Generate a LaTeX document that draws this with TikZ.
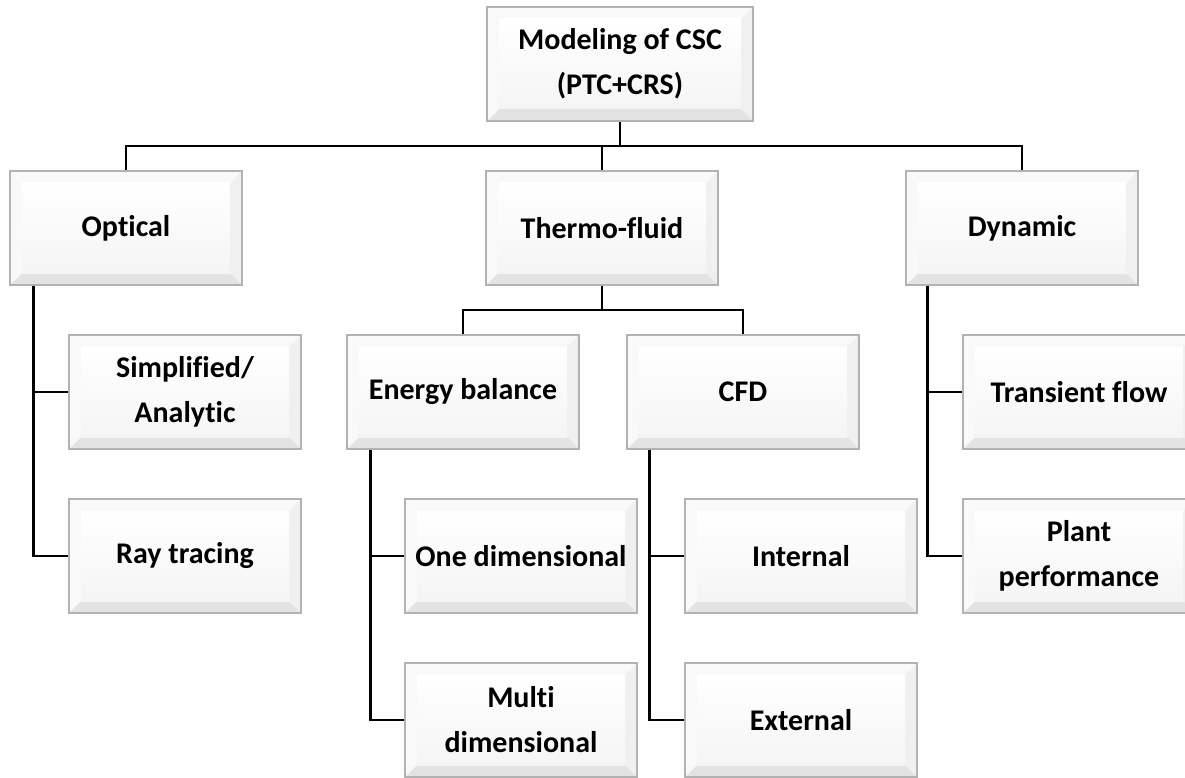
\documentclass[tikz,border=0pt]{standalone}
\usepackage{fontspec}
\setmainfont{Carlito}[Ligatures=NoCommon]
\usepackage{tikz}

\tikzset{
    bevel/.style={draw=gray!60, line width=1.5pt, fill=gray!22, inner sep=0pt,
        minimum width=232pt, minimum height=114pt, align=center,
        font=\bfseries\fontsize{30}{45}\selectfont,
        path picture={
            \coordinate (pnw) at (path picture bounding box.north west);
            \coordinate (pne) at (path picture bounding box.north east);
            \coordinate (pse) at (path picture bounding box.south east);
            \coordinate (psw) at (path picture bounding box.south west);
            \fill [gray!12] (pne) -- (pse) -- ([shift={(-12pt,12pt)}]pse) -- ([shift={(-12pt,-12pt)}]pne) -- cycle;
            \fill [gray!5] (psw) -- (pnw) -- (pne) -- ([shift={(-12pt,-12pt)}]pne) -- ([shift={(12pt,-12pt)}]pnw) -- ([shift={(12pt,12pt)}]psw) -- cycle;
            \shade [top color=white, bottom color=gray!8] ([shift={(12pt,-12pt)}]pnw) rectangle ([shift={(-12pt,12pt)}]pse);
        }},
    link/.style={line width=2.6pt, black}
}

\begin{document}
\begin{tikzpicture}[x=1pt,y=-1pt]
    \useasboundingbox (0,0) rectangle (1185,778);

    % top and first level
    \node [bevel, minimum width=266pt] (csc) at (620,64) {Modeling of CSC\\(PTC+CRS)};
    \node [bevel] (optical) at (126,228) {Optical};
    \node [bevel] (thermo) at (602,228) {Thermo-fluid};
    \node [bevel] (dynamic) at (1022,228) {Dynamic};

    % second level
    \node [bevel] (simplified) at (185,392) {Simplified/\\Analytic};
    \node [bevel] (raytracing) at (185,556) {Ray tracing};
    \node [bevel] (energy) at (463,392) {Energy balance};
    \node [bevel] (cfd) at (743,392) {CFD};
    \node [bevel] (transient) at (1079,392) {Transient flow};
    \node [bevel] (plant) at (1079,556) {Plant\\performance};

    % third level
    \node [bevel] (onedim) at (521,556) {One dimensional};
    \node [bevel] (multidim) at (521,720) {Multi\\dimensional};
    \node [bevel] (internal) at (801,556) {Internal};
    \node [bevel] (external) at (801,720) {External};

    \coordinate (topbus) at (620,146);
    \coordinate (thermobus) at (602,310);

    \draw [link] (csc.south) -- (topbus);
    \draw [link] (optical.north) |- (topbus) -| (dynamic.north);
    \draw [link] (thermo.north) -- (thermo.north |- topbus);

    \draw [link] (thermo.south) -- (thermobus);
    \draw [link] (energy.north) |- (thermobus) -| (cfd.north);

    \draw [link] ([xshift=24pt]optical.south west) |- (simplified.west);
    \draw [link] ([xshift=24pt]optical.south west) |- (raytracing.west);
    \draw [link] ([xshift=24pt]energy.south west) |- (onedim.west);
    \draw [link] ([xshift=24pt]energy.south west) |- (multidim.west);
    \draw [link] ([xshift=23pt]cfd.south west) |- (internal.west);
    \draw [link] ([xshift=23pt]cfd.south west) |- (external.west);
    \draw [link] ([xshift=22pt]dynamic.south west) |- (transient.west);
    \draw [link] ([xshift=22pt]dynamic.south west) |- (plant.west);
\end{tikzpicture}
\end{document}
